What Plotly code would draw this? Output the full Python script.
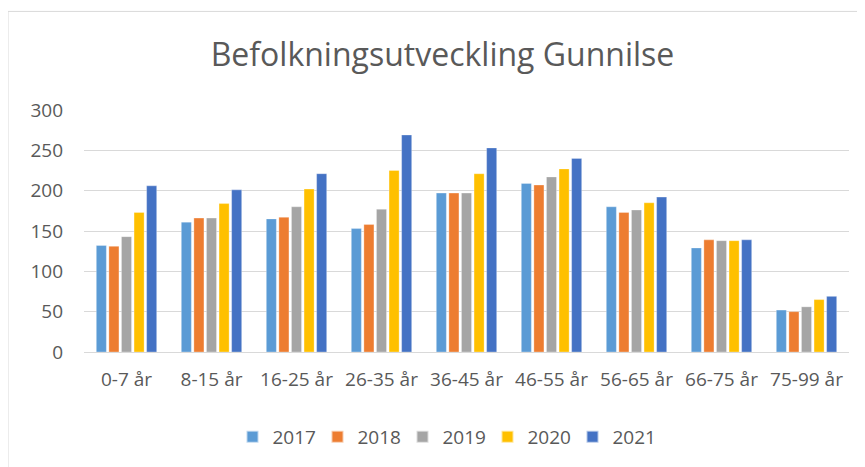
import plotly.graph_objects as go

categories = ["0-7 år", "8-15 år", "16-25 år", "26-35 år", "36-45 år", "46-55 år", "56-65 år", "66-75 år", "75-99 år"]
years = ["2017", "2018", "2019", "2020", "2021"]
v2017 = [132, 161, 165, 153, 197, 209, 180, 129, 52]
v2018 = [131, 166, 167, 158, 197, 207, 173, 139, 50]
v2019 = [143, 166, 180, 177, 197, 217, 176, 138, 56]
v2020 = [173, 184, 202, 225, 221, 227, 185, 138, 65]
v2021 = [206, 201, 221, 269, 253, 240, 192, 139, 69]
series = [v2017, v2018, v2019, v2020, v2021]
colors = ["#5B9BD5", "#ED7D31", "#A5A5A5", "#FFC000", "#4472C4"]

fig = go.Figure()
for name, vals, c in zip(years, series, colors):
    fig.add_trace(go.Bar(name=name, x=categories, y=vals,
                         marker=dict(color=c, line=dict(color="rgba(255,255,255,0.6)", width=0.5))))

# page body has an 8px margin; work in figure coordinates = reference - 8
OFF = 8
W, H = 865 - OFF, 467 - OFF
l, r, t, b = 84 - OFF, 16, 110 - OFF, 114
pw, ph = W - l - r, H - t - b

def px(xr):
    return (xr - OFF - l) / pw

def py(yr):
    return (H - b - (yr - OFF)) / ph

fig.update_layout(
    width=W, height=H,
    margin=dict(l=l, r=r, t=t, b=b),
    paper_bgcolor="white", plot_bgcolor="white",
    font=dict(family="Open Sans", color="#595959", size=18),
    title=dict(text="Befolkningsutveckling Gunnilse", x=px(442.5), xanchor="center",
               xref="paper", y=1 - (55 - OFF) / H, yanchor="middle",
               font=dict(size=32, color="#595959")),
    barmode="group", bargap=0.26, bargroupgap=0.2,
    showlegend=True,
    legend=dict(orientation="h", x=px(445), xanchor="center", y=py(437), yanchor="middle",
                font=dict(size=19, color="#595959"), entrywidth=40, entrywidthmode="pixels",
                itemsizing="constant"),
    shapes=[
        dict(type="line", xref="paper", yref="paper", x0=px(8), x1=px(880), y0=py(11), y1=py(11),
             line=dict(color="#D9D9D9", width=1)),
        dict(type="line", xref="paper", yref="paper", x0=px(8), x1=px(8), y0=py(11), y1=py(480),
             line=dict(color="#D9D9D9", width=1)),
    ],
)
fig.update_yaxes(range=[0, 300], dtick=50, showgrid=True, gridcolor="#D9D9D9", gridwidth=1,
                 zeroline=False, showline=False, ticks="", ticklabelstandoff=20,
                 tickfont=dict(size=19, color="#595959"))
fig.update_xaxes(showline=True, linecolor="#D9D9D9", linewidth=1, ticks="", ticklabelstandoff=10,
                 tickfont=dict(size=19, color="#595959"))

fig.write_html("out.html")
